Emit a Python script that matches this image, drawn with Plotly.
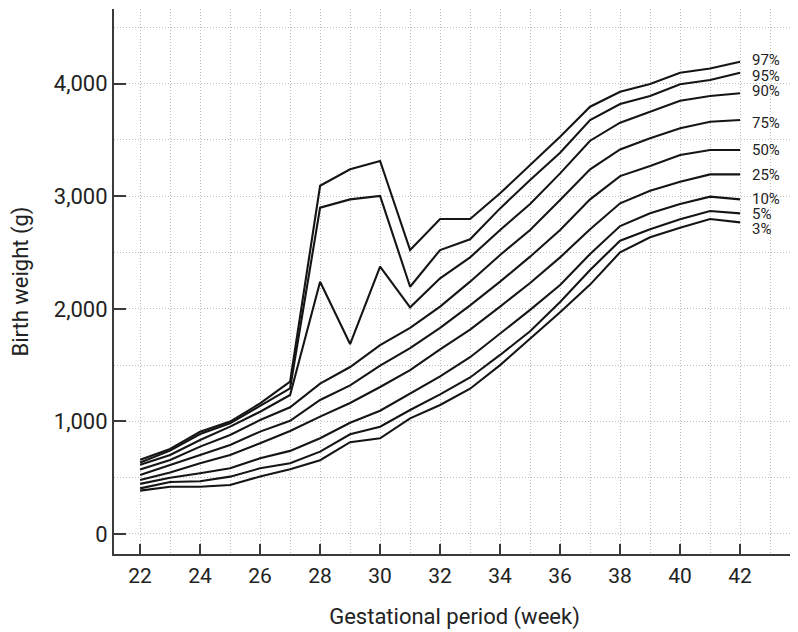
import plotly.graph_objects as go

weeks = list(range(22, 43))
percentile_labels = ["97%", "95%", "90%", "75%", "50%", "25%", "10%", "5%", "3%"]

p97 = [660, 755, 909, 998, 1160, 1353, 3093, 3239, 3313, 2522, 2797, 2797, 3026, 3277, 3529, 3795, 3928, 3996, 4097, 4135, 4195]
p95 = [635, 740, 888, 983, 1137, 1294, 2898, 2972, 3002, 2196, 2522, 2617, 2892, 3144, 3386, 3677, 3819, 3890, 3994, 4032, 4097]
p90 = [615, 702, 835, 953, 1086, 1234, 2241, 1687, 2374, 2013, 2271, 2457, 2700, 2931, 3203, 3493, 3653, 3750, 3848, 3890, 3914]
p75 = [572, 657, 776, 879, 1012, 1125, 1335, 1483, 1678, 1830, 2020, 2241, 2478, 2700, 2966, 3239, 3416, 3514, 3603, 3662, 3677]
p50 = [524, 613, 702, 790, 909, 1005, 1190, 1320, 1495, 1650, 1830, 2030, 2241, 2463, 2700, 2972, 3179, 3268, 3366, 3410, 3410]
p25 = [480, 545, 628, 702, 805, 915, 1042, 1163, 1305, 1455, 1640, 1815, 2020, 2229, 2457, 2706, 2937, 3049, 3129, 3194, 3194]
p10 = [445, 500, 539, 583, 672, 738, 850, 988, 1095, 1250, 1400, 1570, 1780, 1990, 2211, 2487, 2735, 2848, 2931, 2996, 2972]
p5 = [405, 462, 468, 509, 583, 628, 731, 885, 953, 1101, 1240, 1390, 1590, 1800, 2060, 2345, 2605, 2706, 2795, 2869, 2848]
p3 = [385, 420, 420, 435, 510, 575, 655, 815, 850, 1027, 1146, 1290, 1500, 1735, 1970, 2215, 2502, 2635, 2720, 2797, 2768]

series = [p97, p95, p90, p75, p50, p25, p10, p5, p3]

x_ticks = list(range(22, 43, 2))
y_ticks = [0, 1000, 2000, 3000, 4000]

# label vertical nudges (px), layout only
label_yshift = [2, -3, 2, -3, 0, -1, 0, -1, -7]

FONT = "Roboto, Liberation Sans, sans-serif"
AXIS_COLOR = "#3a3a3a"
GRID_COLOR = "#bcbcbc"
GRID_DASH = "1px,2px"
TEXT_COLOR = "#222222"

fig = go.Figure()
for name, vals in zip(percentile_labels, series):
    fig.add_trace(go.Scatter(
        x=weeks, y=vals, mode="lines", name=name,
        line=dict(color="#151515", width=2.1),
        showlegend=False, hoverinfo="skip",
    ))

for name, vals, ys in zip(percentile_labels, series, label_yshift):
    fig.add_annotation(
        x=weeks[-1], y=vals[-1], text=name, showarrow=False,
        xanchor="left", yanchor="middle", xshift=10, yshift=ys,
        font=dict(family=FONT, size=15, color=TEXT_COLOR),
    )

fig.update_layout(
    width=790, height=624,
    margin=dict(l=106, r=3, t=1, b=78),
    paper_bgcolor="white", plot_bgcolor="white",
    font=dict(family=FONT, color=TEXT_COLOR),
)

fig.update_xaxes(
    range=[21.13, 43.83],
    tickmode="array", tickvals=x_ticks,
    ticks="inside", ticklen=10, tickwidth=1.5, tickcolor=AXIS_COLOR,
    showline=True, linecolor=AXIS_COLOR, linewidth=2,
    showgrid=True, gridcolor=GRID_COLOR, griddash=GRID_DASH, gridwidth=1,
    minor=dict(dtick=1, tick0=22, showgrid=True, gridcolor=GRID_COLOR,
               griddash=GRID_DASH, gridwidth=1, ticks=""),
    tickfont=dict(family=FONT, size=21, color=TEXT_COLOR),
    ticklabelstandoff=2,
    title=dict(text="Gestational period (week)", standoff=21,
               font=dict(family=FONT, size=22, color=TEXT_COLOR)),
    zeroline=False,
)

fig.update_yaxes(
    range=[-178, 4663],
    tickmode="array", tickvals=y_ticks, tickformat=",",
    ticks="inside", ticklen=12, tickwidth=1.5, tickcolor=AXIS_COLOR,
    showline=True, linecolor=AXIS_COLOR, linewidth=2,
    showgrid=True, gridcolor=GRID_COLOR, griddash=GRID_DASH, gridwidth=1,
    minor=dict(dtick=500, tick0=0, showgrid=True, gridcolor=GRID_COLOR,
               griddash=GRID_DASH, gridwidth=1, ticks=""),
    tickfont=dict(family=FONT, size=22, color=TEXT_COLOR),
    ticklabelstandoff=0,
    title=dict(text="Birth weight (g)", standoff=30,
               font=dict(family=FONT, size=22, color=TEXT_COLOR)),
    zeroline=False,
)

fig.write_html("out.html")
